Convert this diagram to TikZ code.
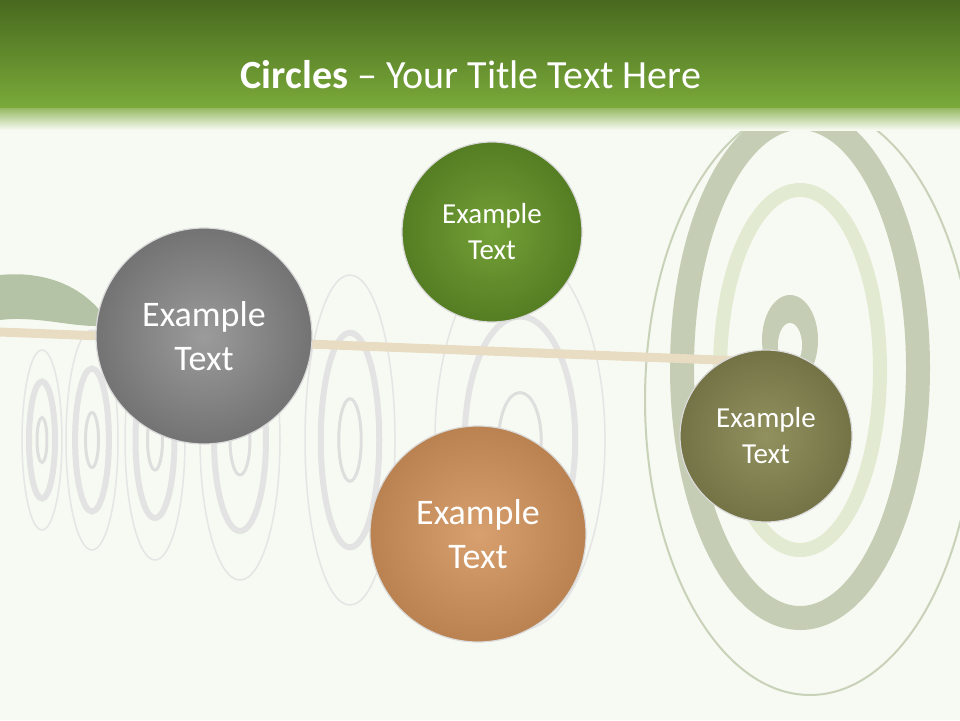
\documentclass[tikz,border=0pt]{standalone}
\usepackage{fontspec}
\setmainfont{Carlito}
\begin{document}
\begin{tikzpicture}[x=1pt,y=-1pt,
  ball/.style={circle,draw=white!85!black,line width=1.2pt,text=white,align=center,inner sep=0pt}]
\useasboundingbox (0,0) rectangle (960,720);
\fill[color={rgb,255:red,247;green,250;blue,242}] (0,0) rectangle (960,720);
% background targets left
\foreach \cx/\rx/\ry in {42/20/90,92/26/110,155/30/120,240/40/140,350/45/165,520/85/190}{
  \draw[black!10,line width=1.5pt] (\cx,440) ellipse ({\rx} and {\ry});
  \draw[black!11,line width=6pt] (\cx,440) ellipse ({\rx*0.65} and {\ry*0.65});
  \draw[black!13,line width=3pt] (\cx,440) ellipse ({\rx*0.25} and {\ry*0.25});
}
% right target
\draw[color={rgb,255:red,200;green,210;blue,185},line width=2pt] (810,400) ellipse (165 and 295);
\draw[color={rgb,255:red,197;green,206;blue,181},line width=24pt] (800,368) ellipse (118 and 250);
\draw[color={rgb,255:red,226;green,235;blue,210},line width=14pt] (800,370) ellipse (80 and 180);
\fill[color={rgb,255:red,197;green,206;blue,181}] (790,340) ellipse (28 and 45);
\fill[color={rgb,255:red,247;green,250;blue,242}] (790,345) ellipse (12 and 22);
% arrow
\fill[color={rgb,255:red,180;green,195;blue,165}] (0,275) .. controls (50,270) and (90,290) .. (110,325) .. controls (80,330) and (40,315) .. (0,320) -- cycle;
\draw[color={rgb,255:red,232;green,220;blue,195},line width=9pt] (0,332) -- (770,362);
% header
\shade[top color={rgb,255:red,72;green,105;blue,30},bottom color={rgb,255:red,122;green,170;blue,58}] (0,0) rectangle (960,108);
\shade[top color={rgb,255:red,150;green,185;blue,100},bottom color={rgb,255:red,247;green,250;blue,242}] (0,108) rectangle (960,130);
\node[text=white,font=\fontsize{40}{44}\selectfont] (title) at (471,75) {\textbf{Circles} – Your Title Text Here};
% balls
\node[ball,minimum size=216pt,font=\fontsize{36}{44}\selectfont,inner color={rgb,255:red,155;green,155;blue,155},outer color={rgb,255:red,115;green,115;blue,115}] (b1) at (204,336) {Example\\Text};
\node[ball,minimum size=180pt,font=\fontsize{29}{36}\selectfont,inner color={rgb,255:red,115;green,160;blue,55},outer color={rgb,255:red,85;green,125;blue,35}] (b2) at (492,232) {Example\\Text};
\node[ball,minimum size=216pt,font=\fontsize{36}{44}\selectfont,inner color={rgb,255:red,215;green,160;blue,110},outer color={rgb,255:red,185;green,130;blue,80}] (b3) at (478,534) {Example\\Text};
\node[ball,minimum size=172pt,font=\fontsize{29}{36}\selectfont,inner color={rgb,255:red,145;green,145;blue,95},outer color={rgb,255:red,115;green,115;blue,70}] (b4) at (766,436) {Example\\Text};
\end{tikzpicture}
\end{document}
